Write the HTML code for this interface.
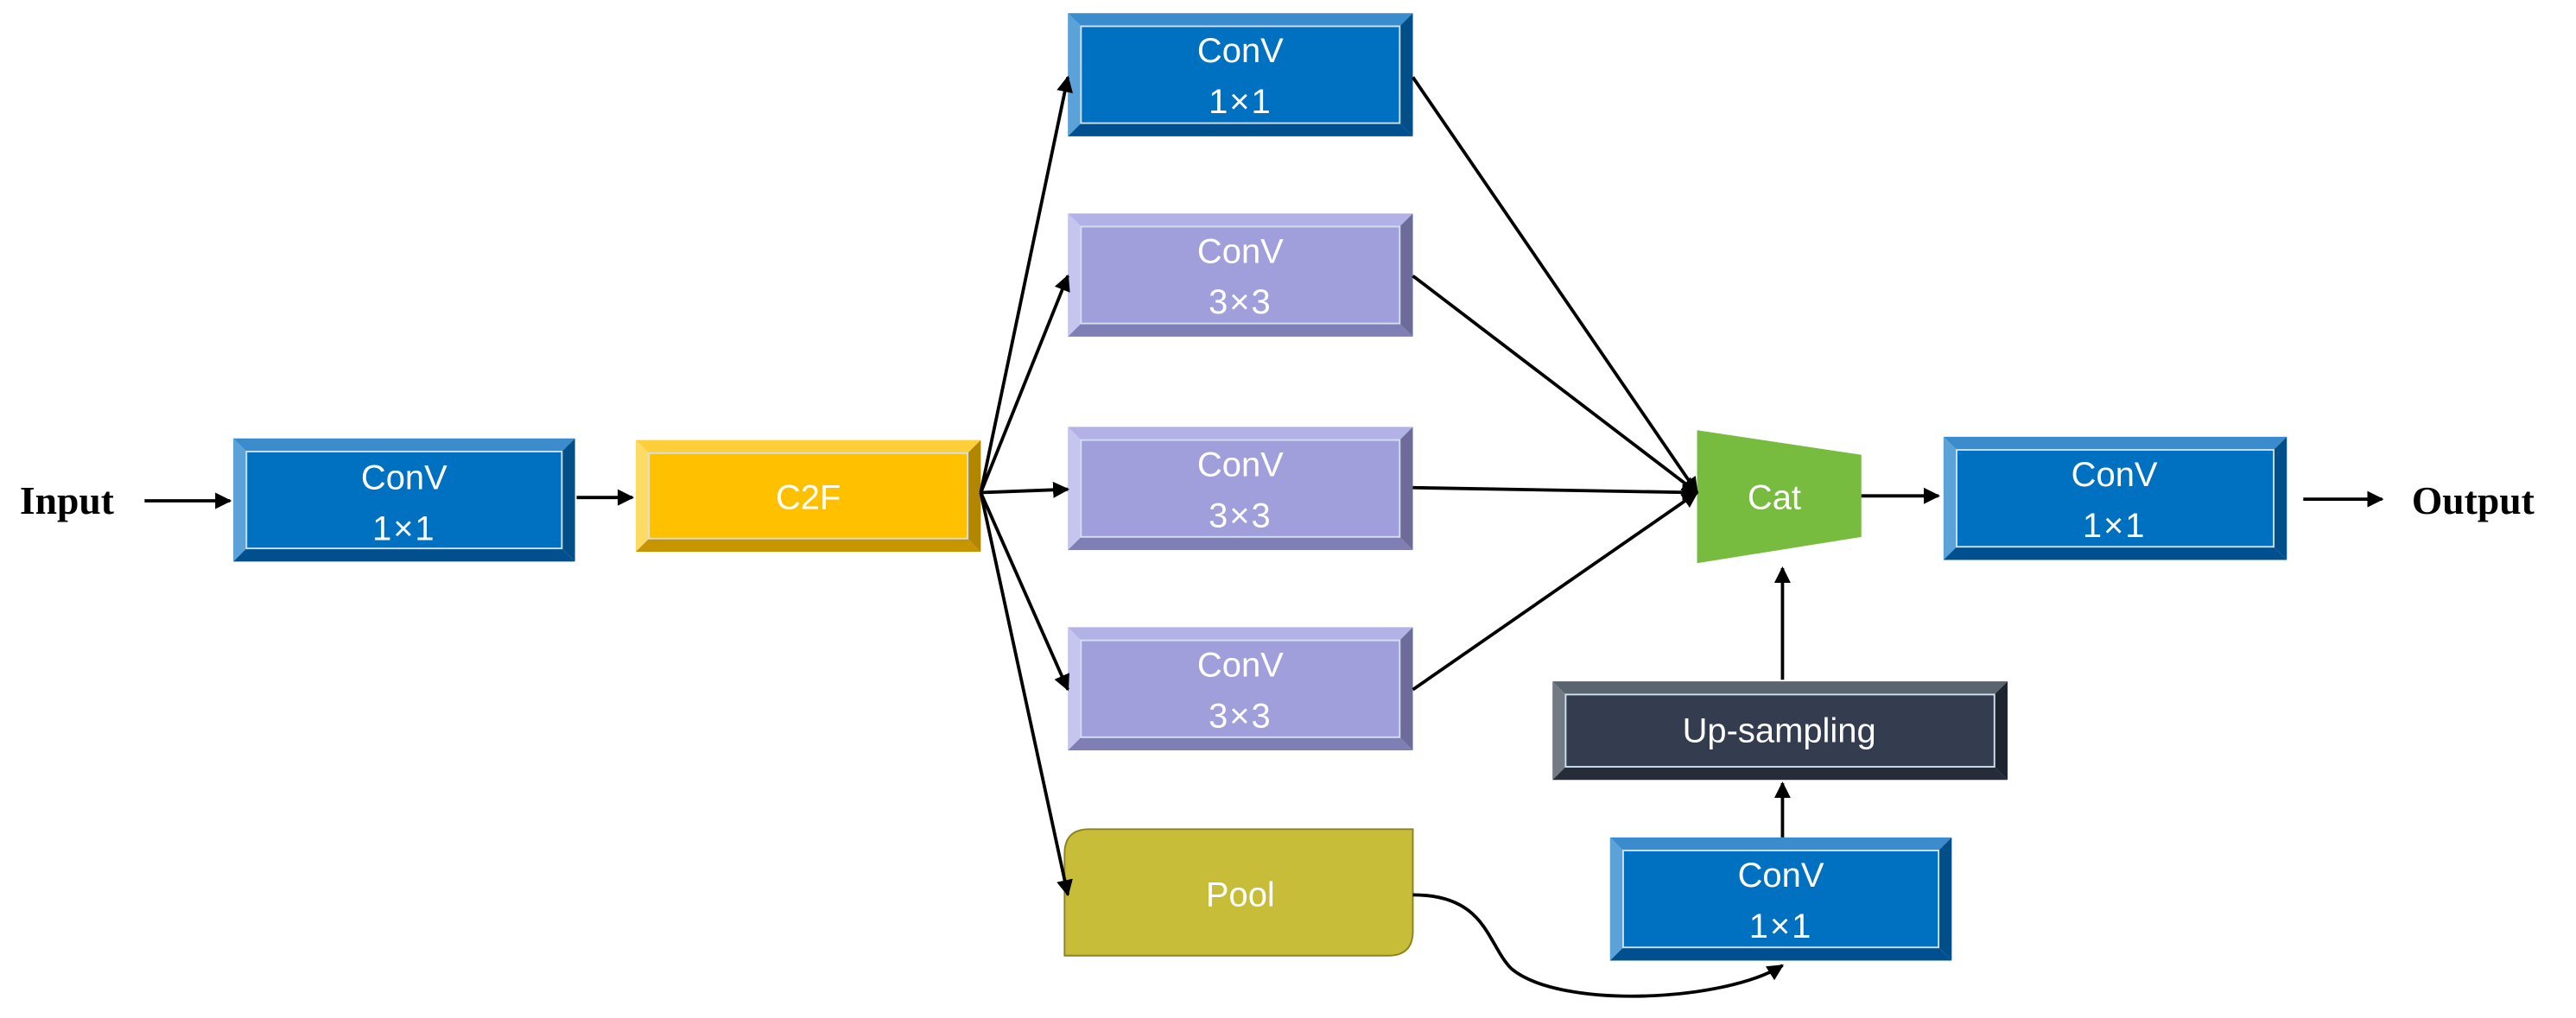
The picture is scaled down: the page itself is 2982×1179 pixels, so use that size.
<!DOCTYPE html>
<html><head><meta charset="utf-8"><style>
html,body{margin:0;padding:0;background:#fff;}
svg{display:block;}
.t{font-family:"Liberation Sans",sans-serif;fill:#fff;font-size:21px;text-anchor:middle;}
.x{font-family:"Liberation Sans","Noto Sans CJK SC",sans-serif;letter-spacing:1px;}
.s{font-family:"Liberation Serif",serif;font-weight:bold;fill:#000;font-size:24px;}
</style></head><body>
<svg id="sv" width="2982" height="1179" viewBox="0 0 1568 620" preserveAspectRatio="none" xmlns="http://www.w3.org/2000/svg">
<defs><marker id="a" viewBox="0 0 10 10" refX="9" refY="5" markerWidth="5" markerHeight="5" orient="auto"><path d="M0,0 L10,5 L0,10 z" fill="#000"/></marker></defs>
<g id="boxes"></g>
<path d="M663,505 H860 V567 Q860,582 845,582 H648 V520 Q648,505 663,505 Z" fill="#c8bd38" stroke="#8a8420" stroke-width="1"/>
<polygon points="1033,262 1133,277 1133,327 1033,343" fill="#77bb3f"/>
<g stroke="#000" stroke-width="2" fill="none" marker-end="url(#a)">
<line x1="88" y1="305" x2="140" y2="305"/>
<line x1="351" y1="303" x2="385" y2="303"/>
<line x1="597" y1="300" x2="650" y2="47"/>
<line x1="597" y1="300" x2="650" y2="168"/>
<line x1="597" y1="300" x2="650" y2="298"/>
<line x1="597" y1="300" x2="650" y2="420"/>
<line x1="597" y1="300" x2="650" y2="545"/>
<line x1="860" y1="47" x2="1033" y2="300"/>
<line x1="860" y1="168" x2="1033" y2="300"/>
<line x1="860" y1="297" x2="1033" y2="300"/>
<line x1="860" y1="420" x2="1033" y2="300"/>
<line x1="1133" y1="302" x2="1180" y2="302"/>
<line x1="1402" y1="304" x2="1450" y2="304"/>
<line x1="1085" y1="414" x2="1085" y2="346"/>
<line x1="1085" y1="510" x2="1085" y2="477"/>
<path d="M860,545 C905,545 905,575 920,590 C950,615 1050,610 1085,588"/>
</g>
<text class="s" x="12" y="313">Input</text>
<text class="s" x="1468" y="313">Output</text>
<text class="t" x="246" y="298">ConV</text><text class="t x" x="246" y="329">1×1</text>
<text class="t" x="492" y="310">C2F</text>
<text class="t" x="755" y="38">ConV</text><text class="t x" x="755" y="69">1×1</text>
<text class="t" x="755" y="160">ConV</text><text class="t x" x="755" y="191">3×3</text>
<text class="t" x="755" y="290">ConV</text><text class="t x" x="755" y="321">3×3</text>
<text class="t" x="755" y="412">ConV</text><text class="t x" x="755" y="443">3×3</text>
<text class="t" x="755" y="552">Pool</text>
<text class="t" x="1080" y="310">Cat</text>
<text class="t" x="1287" y="296">ConV</text><text class="t x" x="1287" y="327">1×1</text>
<text class="t" x="1083" y="452">Up-sampling</text>
<text class="t" x="1084" y="540">ConV</text><text class="t x" x="1084" y="571">1×1</text>
</svg>
<script>
var B={blue:["#0070c0","#3a8ccc","#5aa2d8","#004f88","#00508f"],
pur:["#a09fdc","#b3b2e6","#c6c5ef","#6c6b99","#807fb5"],
yel:["#ffc000","#ffcf3a","#ffdb66","#b38600","#c79500"],
dk:["#333d4f","#5a6370","#737a84","#1e2530","#262d39"]};
var boxes=[[142,267,208,75,"blue"],[387,268,210,68,"yel"],[650,8,210,75,"blue"],[650,130,210,75,"pur"],[650,260,210,75,"pur"],[650,382,210,75,"pur"],[1183,266,209,75,"blue"],[945,415,277,60,"dk"],[980,510,208,75,"blue"]];
var g=document.getElementById("boxes"),h="",b=8;
boxes.forEach(function(q){var x=q[0],y=q[1],w=q[2],H=q[3],c=B[q[4]];
function P(p,f){h+='<polygon points="'+p+'" fill="'+f+'"/>';}
P(x+","+y+" "+(x+w)+","+y+" "+(x+w-b)+","+(y+b)+" "+(x+b)+","+(y+b),c[1]);
P(x+","+(y+H)+" "+(x+w)+","+(y+H)+" "+(x+w-b)+","+(y+H-b)+" "+(x+b)+","+(y+H-b),c[4]);
P(x+","+y+" "+(x+b)+","+(y+b)+" "+(x+b)+","+(y+H-b)+" "+x+","+(y+H),c[2]);
P((x+w)+","+y+" "+(x+w-b)+","+(y+b)+" "+(x+w-b)+","+(y+H-b)+" "+(x+w)+","+(y+H),c[3]);
h+='<rect x="'+(x+b)+'" y="'+(y+b)+'" width="'+(w-2*b)+'" height="'+(H-2*b)+'" fill="'+c[0]+'" stroke="#cfe0f0" stroke-width="1"/>';});
g.innerHTML=h;
</script>
</body></html>
